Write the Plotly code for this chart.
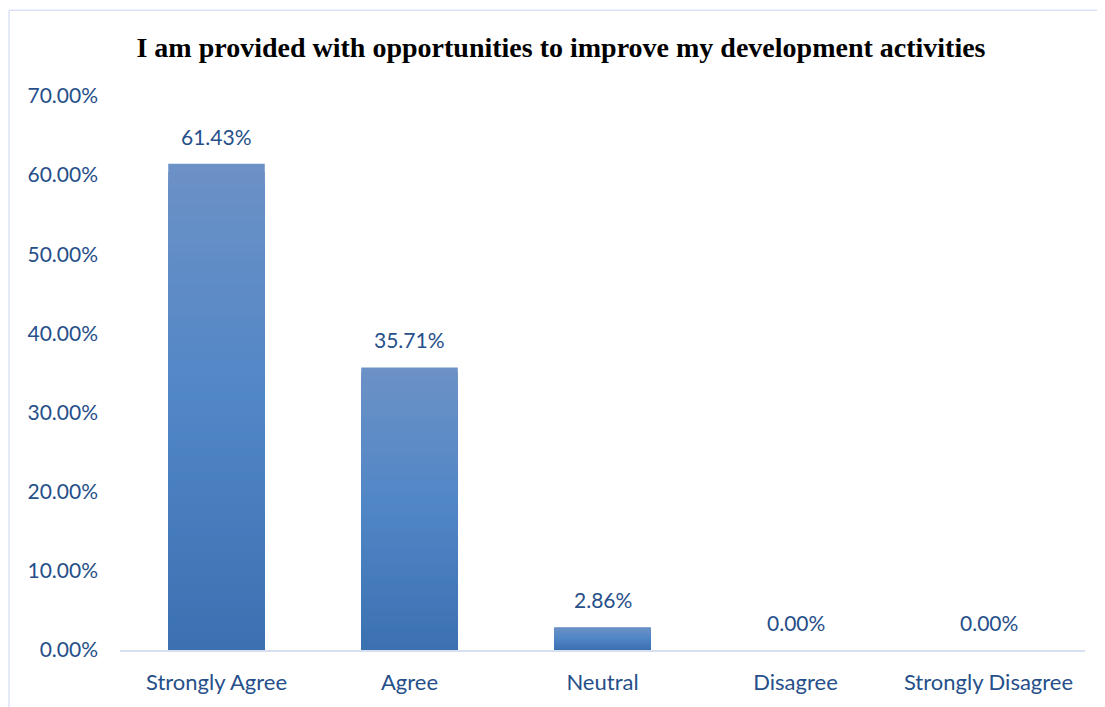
import plotly.graph_objects as go

categories = ["Strongly Agree", "Agree", "Neutral", "Disagree", "Strongly Disagree"]
values = [61.43, 35.71, 2.86, 0.00, 0.00]
y_ticks = [0, 10, 20, 30, 40, 50, 60, 70]
y_tick_labels = [f"{v:.2f}%" for v in y_ticks]
title_text = "I am provided with opportunities to improve my development activities"

TEXT_BLUE = "#264f8a"
FONT = "Lato"
FS = 21
BORDER = "#dae3f3"

# gradient stops (fraction of bar height from bottom -> colour)
stops = [(0.0, (0x3b, 0x70, 0xb1)), (0.5, (0x50, 0x86, 0xc6)), (1.0, (0x6c, 0x91, 0xc6))]


def grad_color(f):
    for (f0, c0), (f1, c1) in zip(stops[:-1], stops[1:]):
        if f0 <= f <= f1:
            t = (f - f0) / (f1 - f0) if f1 > f0 else 0
            return "rgb(%d,%d,%d)" % tuple(round(a + (b - a) * t) for a, b in zip(c0, c1))
    return "rgb(%d,%d,%d)" % stops[-1][1]


fig = go.Figure()
N = 60
for k in range(N, 0, -1):
    f = k / N
    fig.add_trace(go.Bar(
        x=categories,
        y=[v * f for v in values],
        width=0.5,
        marker=dict(color=grad_color(f - 0.5 / N), line=dict(width=0)),
        hoverinfo="skip" if k != N else None,
        showlegend=False,
    ))

for c, v in zip(categories, values):
    fig.add_annotation(
        x=c, y=v, text=f"{v:.2f}%", showarrow=False,
        yanchor="bottom", yshift=13,
        font=dict(family=FONT, size=FS, color=TEXT_BLUE),
    )

# outer chart frame (light blue): top and left edges visible
fig.add_shape(type="line", xref="paper", yref="paper",
              x0=-0.115, x1=1.2, y0=1.155, y1=1.155,
              line=dict(color=BORDER, width=1.5), layer="below")
fig.add_shape(type="line", xref="paper", yref="paper",
              x0=-0.115, x1=-0.115, y0=-0.2, y1=1.155,
              line=dict(color=BORDER, width=1.5), layer="below")

fig.update_layout(
    width=1097, height=699,
    margin=dict(l=112, r=20, t=88, b=57),
    paper_bgcolor="white", plot_bgcolor="white",
    barmode="overlay", bargap=0.5,
    title=dict(text=title_text, xref="paper", x=0.457, xanchor="center", y=0.944, yanchor="middle",
               font=dict(family="Liberation Serif", size=28, color="black", weight="bold")),
    showlegend=False,
)
fig.update_xaxes(
    showgrid=False, showline=True, linecolor="#d6e0f1", linewidth=1.5,
    ticks="", tickfont=dict(family=FONT, size=22, color=TEXT_BLUE),
    ticklabelstandoff=12, fixedrange=True,
)
fig.update_yaxes(
    range=[0, 70], tickvals=y_ticks, ticktext=y_tick_labels,
    showgrid=False, showline=False, zeroline=False, ticks="",
    tickfont=dict(family=FONT, size=FS, color=TEXT_BLUE),
    ticklabelstandoff=21, fixedrange=True,
)

fig.write_html("out.html")
